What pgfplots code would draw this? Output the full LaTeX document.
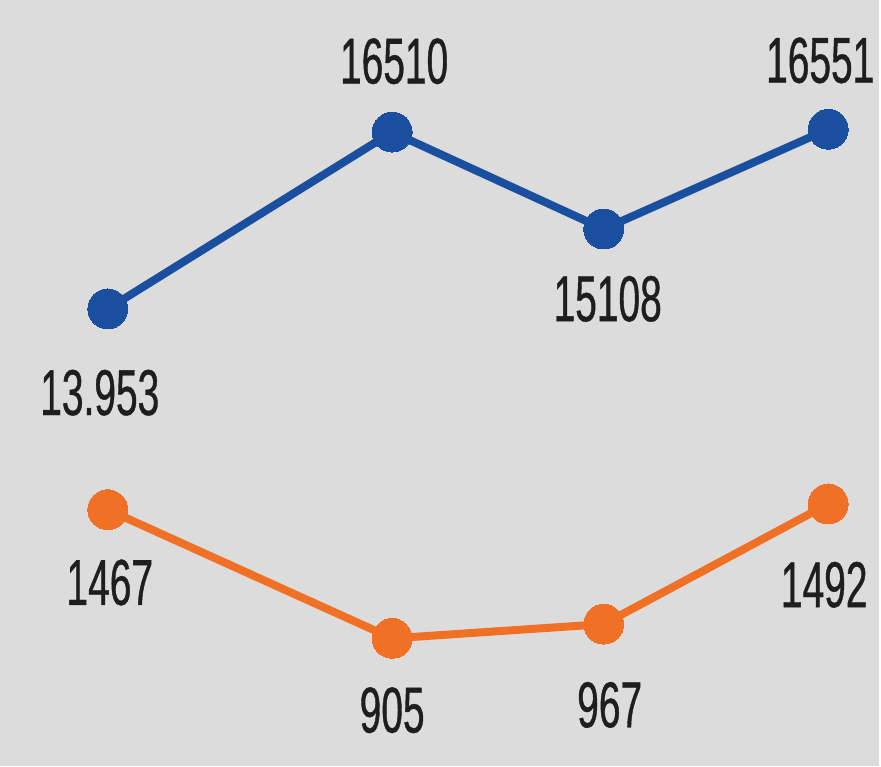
\documentclass[border=0pt]{standalone}
\usepackage{pgfplots}
\pgfplotsset{compat=1.18}
\usepackage{pgfplotstable}
\usepackage{fontspec}
\setmainfont[FakeStretch=0.6, FakeBold=0.6]{Liberation Sans}
\definecolor{bg}{HTML}{DCDCDC}
\definecolor{lblue}{HTML}{1A4E9E}
\definecolor{lorange}{HTML}{F07025}
\definecolor{txt}{HTML}{1E1E1E}

\pgfplotstableread{
x y off xs label
108 13953 -42 -4 13.953
393 16510 35.5 1 16510
605 15108 -35 2 15108
830 16551 34.5 -4 16551
}\bluedata
\pgfplotstableread{
x y off xs label
108 1467 -36.5 1 1467
393 905 -36 0 905
605 967 -40.5 3 967
830 1492 -40.5 -2 1492
}\orangedata

\begin{document}
\begin{tikzpicture}
\pgfplotsset{base/.style={
  width=440.5pt, height=384pt, scale only axis,
  xmin=0, xmax=881, axis lines=none, clip=false,
  at={(0,0)}, anchor=south west,
  point meta=explicit symbolic, nodes near coords,
  visualization depends on={\thisrow{off}\as\myoff},
  visualization depends on={\thisrow{xs}\as\myxs},
  every node near coord/.append style={anchor=center, yshift=\myoff pt, xshift=\myxs pt,
    font=\fontsize{32.5}{32.5}\selectfont, text=txt},
}}
\begin{axis}[base, ymin=7337, ymax=18420,
  axis background/.style={fill=bg}]
\addplot[lblue, line width=4pt, mark=*, mark size=10pt, mark options={fill=lblue, draw=lblue, line width=0pt}]
  table[x=x, y=y, meta=label] {\bluedata};
\end{axis}
\begin{axis}[base, ymin=345.7, ymax=3693.5]
\addplot[lorange, line width=4pt, mark=*, mark size=10pt, mark options={fill=lorange, draw=lorange, line width=0pt}]
  table[x=x, y=y, meta=label] {\orangedata};
\end{axis}
\end{tikzpicture}
\end{document}
